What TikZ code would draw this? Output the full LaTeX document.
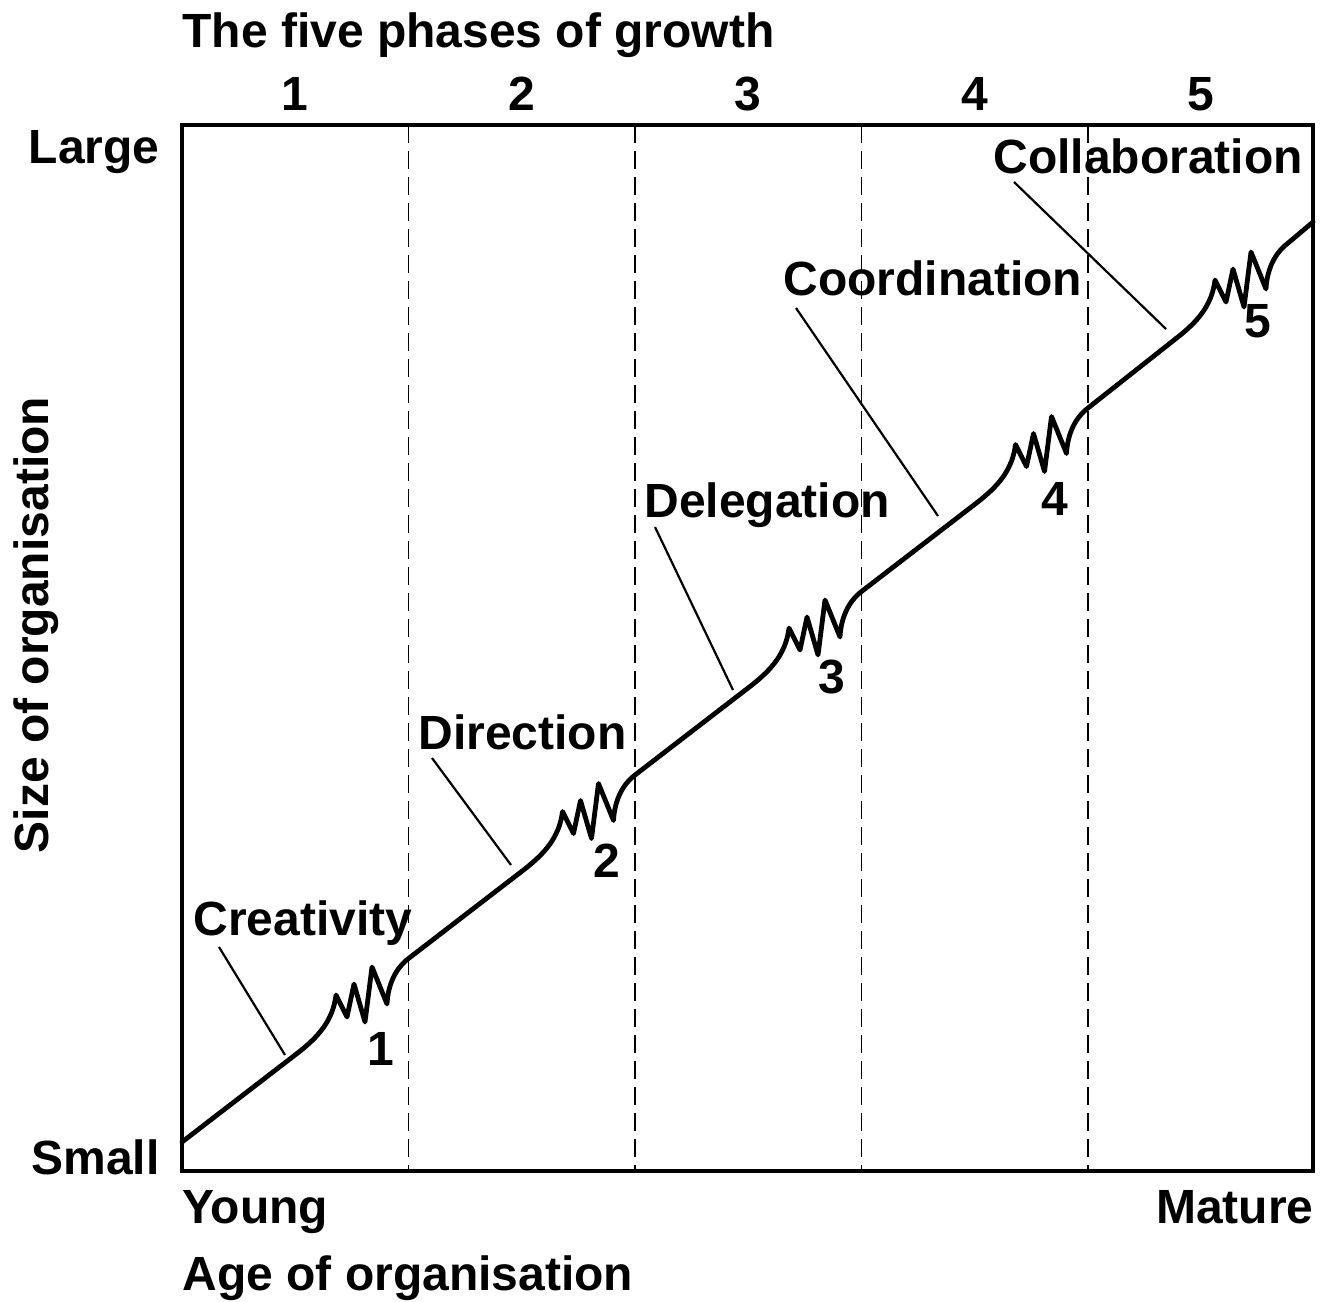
\documentclass[tikz,border=0pt]{standalone}
\usepackage{fontspec}
\setmainfont{Liberation Sans}
\usepackage{tikz}
\usetikzlibrary{positioning}

\begin{document}
\begin{tikzpicture}[x=0.5pt,y=-0.5pt,
  lbl/.style={font=\fontsize{24}{28}\selectfont\bfseries,inner sep=0pt},
  leader/.style={line width=1.1pt},
  phaseline/.style={dash pattern=on 9pt off 4pt,line width=0.9pt},
  growth/.style={line width=2.4pt,line join=round,line cap=round}]
\useasboundingbox (0,0) rectangle (1322,1301);

% Frame and phase borders
\draw[line width=1.6pt] (182,125) rectangle (1313,1171);
\draw[phaseline] (408.5,125) -- (408.5,1171);
\draw[phaseline] (635,125) -- (635,1171);
\draw[phaseline] (861.5,125) -- (861.5,1171);
\draw[phaseline] (1088,125) -- (1088,1171);

% Titles and axes
\node[lbl,anchor=base west] (title) at (182,47) {The five phases of growth};
\node[lbl,anchor=base] (p1) at (295,110) {1};
\node[lbl,anchor=base] (p2) at (522,110) {2};
\node[lbl,anchor=base] (p3) at (748,110) {3};
\node[lbl,anchor=base] (p4) at (975,110) {4};
\node[lbl,anchor=base] (p5) at (1201,110) {5};
\node[lbl,anchor=base east] (large) at (160,163) {Large};
\node[lbl,anchor=base east] (small) at (160,1174) {Small};
\node[lbl,anchor=base west] (young) at (182,1223) {Young};
\node[lbl,anchor=base east] (mature) at (1314,1223) {Mature};
\node[lbl,anchor=base west] (age) at (182,1290) {Age of organisation};
\node[lbl,anchor=base,rotate=90] (size) at (48,625) {Size of organisation};

% Growth curve
\draw[growth] (182,1142) -- (297,1053.5)
  .. controls (319,1036.5) and (333,1020) .. (336,995)
  -- (347,1017) -- (354,984) -- (365,1022) -- (372,967) -- (387,1004)
  .. controls (388,984) and (396,968) .. (408.5,958.5)
  -- (523.5,870)
  .. controls (545.5,853) and (559.5,836.5) .. (562.5,811.5)
  -- (573.5,833.5) -- (580.5,800.5) -- (591.5,838.5) -- (598.5,783.5) -- (613.5,820.5)
  .. controls (614.5,800.5) and (622.5,784.5) .. (635,775)
  -- (750,686.5)
  .. controls (772,669.5) and (786,653) .. (789,628)
  -- (800,650) -- (807,617) -- (818,655) -- (825,600) -- (840,637)
  .. controls (841,617) and (849,601) .. (861.5,591.5)
  -- (976.5,503)
  .. controls (998.5,486) and (1012.5,469.5) .. (1015.5,444.5)
  -- (1026.5,466.5) -- (1033.5,433.5) -- (1044.5,471.5) -- (1051.5,416.5) -- (1066.5,453.5)
  .. controls (1067.5,433.5) and (1075.5,417.5) .. (1088,408)
  -- (1176,338.5)
  .. controls (1198,321.5) and (1212,305) .. (1215,280)
  -- (1226,302) -- (1233,269) -- (1244,307) -- (1251,252) -- (1266,289)
  .. controls (1267,269) and (1275,253) .. (1287.5,243.5)
  -- (1313,222);

% Crises
\node[lbl,anchor=base] (k1) at (381,1065) {1};
\node[lbl,anchor=base] (k2) at (607,877) {2};
\node[lbl,anchor=base] (k3) at (832,693) {3};
\node[lbl,anchor=base] (k4) at (1055,515) {4};
\node[lbl,anchor=base] (k5) at (1258,337) {5};

% Phase labels
\node[lbl,anchor=base west] (creativity) at (193,935) {Creativity};
\node[lbl,anchor=base west] (direction) at (418,749) {Direction};
\node[lbl,anchor=base west] (delegation) at (644,517) {Delegation};
\node[lbl,anchor=base west] (coordination) at (783,295) {Coordination};
\node[lbl,anchor=base west] (collaboration) at (993,173) {Collaboration};

% Leaders
\coordinate (creaA) at (219,947);
\coordinate (creaB) at (285,1055);
\coordinate (direA) at (432,758);
\coordinate (direB) at (511,865);
\coordinate (deleA) at (655,527);
\coordinate (deleB) at (733,690);
\coordinate (coorA) at (796,308);
\coordinate (coorB) at (938,516);
\coordinate (collA) at (1014,182);
\coordinate (collB) at (1166,329);
\draw[leader] (creaA) -- (creaB);
\draw[leader] (direA) -- (direB);
\draw[leader] (deleA) -- (deleB);
\draw[leader] (coorA) -- (coorB);
\draw[leader] (collA) -- (collB);
\end{tikzpicture}
\end{document}
